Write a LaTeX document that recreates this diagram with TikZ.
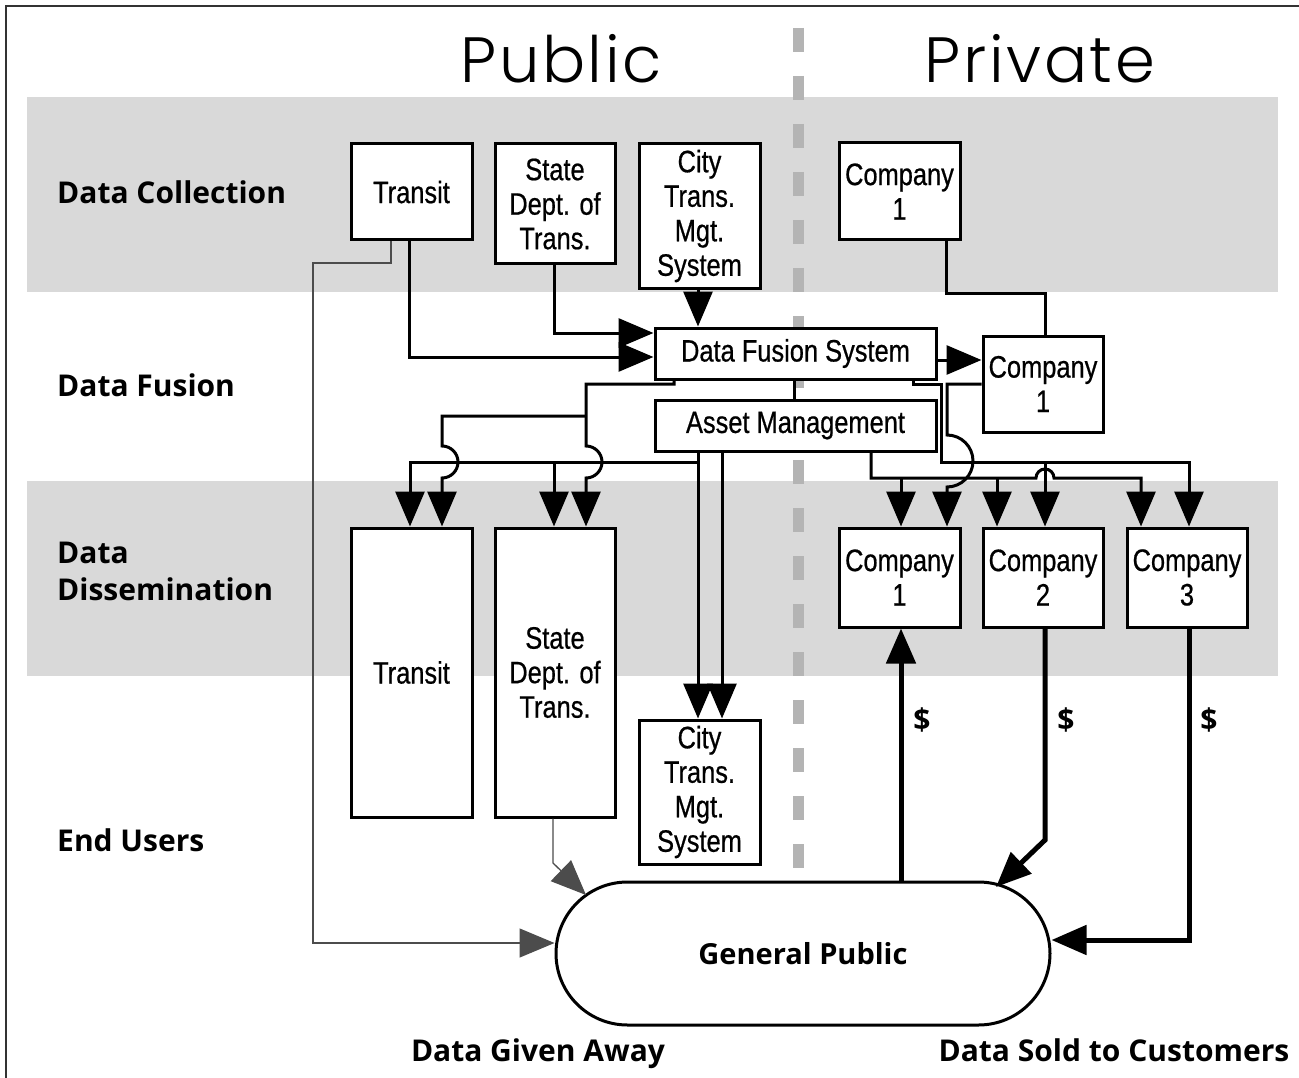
\documentclass[tikz,border=0pt]{standalone}
\usepackage{fontspec}
\usetikzlibrary{arrows.meta}
\newfontfamily\boxfont[FakeStretch=0.82,FakeBold=0.6]{Liberation Sans}
\newfontfamily\labfont{Open Sans}
\newfontfamily\titlefont[UprightFont=* Light,LetterSpace=4]{Poppins}
\definecolor{band}{HTML}{D9D9D9}
\definecolor{divider}{HTML}{B4B4B4}
\begin{document}
\begin{tikzpicture}[x=1pt,y=-1pt,
  box/.style={draw,line width=3pt,fill=white,inner sep=0pt,align=center,
    font=\boxfont\fontsize{31}{34.5}\selectfont},
  lab/.style={anchor=west,align=left,inner sep=0pt,
    font=\labfont\bfseries\fontsize{30}{37}\selectfont},
  bold/.style={inner sep=0pt,font=\labfont\bfseries\fontsize{30}{37}\selectfont},
  ttl/.style={anchor=base,inner sep=0pt,font=\titlefont\fontsize{64}{70}\selectfont},
  conn/.style={line width=3pt},
  thin/.style={line width=1.3pt,draw=black!70},
  heavy/.style={line width=5pt},
  tip/.style={-{Triangle[length=35pt,width=29pt]}},
]
\useasboundingbox (0,0) rectangle (1299,1078);
\fill[white] (0,0) rectangle (1299,1078);
% frame
\draw[line width=1.6pt,black!80] (6,1078) -- (6,6) -- (1299,6);

% horizontal bands
\fill[band] (27,97) rectangle (1278,292);
\fill[band] (27,481) rectangle (1278,676);

% public / private divider
\draw[divider,line width=11pt,dash pattern=on 24pt off 24pt] (798,28) -- (798,868);

% titles
\node[ttl] (tpub) at (561,83) {Public};
\node[ttl] (tpriv) at (1040,83) {Private};

% row labels
\node[lab] (lcol) at (57,192) {Data Collection};
\node[lab] (lfus) at (57,385) {Data Fusion};
\node[lab] (ldis) at (57,571) {Data\\Dissemination};
\node[lab] (lend) at (57,840) {End Users};

% collection boxes
\node[box,minimum width=121pt,minimum height=96pt] (tc) at (411.5,192) {Transit};
\node[box,minimum width=120pt,minimum height=120pt] (sc) at (555,204) {State\\Dept. of\\Trans.};
\node[box,minimum width=121pt,minimum height=144pt] (cc) at (699.5,216) {City\\Trans.\\Mgt.\\System};
\node[box,minimum width=121pt,minimum height=97pt] (pc) at (899.5,191.5) {Company\\1};

% fusion boxes
\node[box,minimum width=281pt,minimum height=51pt] (dfs) at (795.5,353.5) {Data Fusion System};
\node[box,minimum width=281pt,minimum height=51pt] (am) at (795.5,425.5) {Asset Management};
\node[box,minimum width=120pt,minimum height=96pt] (pm) at (1043,384) {Company\\1};

% dissemination boxes
\node[box,minimum width=121pt,minimum height=289pt] (td) at (411.5,672.5) {Transit};
\node[box,minimum width=120pt,minimum height=289pt] (sd) at (555,672.5) {State\\Dept. of\\Trans.};
\node[box,minimum width=121pt,minimum height=144pt] (cd) at (699.5,792) {City\\Trans.\\Mgt.\\System};
\node[box,minimum width=121pt,minimum height=99pt] (p1) at (899.5,577.5) {Company\\1};
\node[box,minimum width=120pt,minimum height=99pt] (p2) at (1043,577.5) {Company\\2};
\node[box,minimum width=120pt,minimum height=99pt] (p3) at (1187,577.5) {Company\\3};

% end users
\node[draw,line width=3pt,fill=white,rounded corners=71.5pt,minimum width=494pt,
  minimum height=143pt,inner sep=0pt,font=\labfont\bfseries\fontsize{29}{37}\selectfont]
  (gp) at (803,953.5) {General Public};
\coordinate (gpA) at (586,895);
\coordinate (gpB) at (996,887);

% bottom captions
\node[bold,anchor=base] (cfree) at (538,1061) {Data Given Away};
\node[bold,anchor=base] (csold) at (1114,1061) {Data Sold to Customers};

% collection -> fusion
\draw[conn,tip] (409,0 |- tc.south) -- (409,357) -- (dfs.west |- 0,357);
\draw[conn,tip] (554,0 |- sc.south) -- (554,333) -- (dfs.west |- 0,333);
\draw[conn,tip] (698,0 |- cc.south) -- (698,0 |- dfs.north);
\draw[conn,tip] (dfs.east |- 0,360) -- (pm.west |- 0,360);
\draw[conn] (946,0 |- pc.south) -- (946,293) -- (1045,293) -- (1045,0 |- pm.north);
\draw[conn] (794,0 |- dfs.south) -- (794,0 |- am.north);

% fusion system -> public agencies
\draw[conn,tip] (674,0 |- dfs.south) -- (674,384) -- (586,384) -- (586,446)
  arc[start angle=90,end angle=-90,radius=16pt] -- (586,0 |- sd.north);
\draw[conn,tip] (586,416) -- (442,416) -- (442,446)
  arc[start angle=90,end angle=-90,radius=16pt] -- (442,0 |- td.north);

% asset management -> public agencies
\draw[conn,tip] (698,0 |- am.south) -- (698,0 |- cd.north);
\draw[conn,tip] (722,0 |- am.south) -- (722,0 |- cd.north);
\draw[conn,tip] (698,462) -- (410,462) -- (410,0 |- td.north);
\draw[conn,tip] (554,462) -- (554,0 |- sd.north);

% fusion system -> companies
\draw[conn,tip] (913,0 |- dfs.south) -- (913,384) -- (941,384) -- (941,462) -- (1189,462) -- (1189,0 |- p3.north);
\draw[conn,tip] (1045,462) -- (1045,0 |- p2.north);

% company 1 -> its own dissemination
\draw[conn,tip] (pm.west |- 0,384) -- (947,384) -- (947,435)
  arc[start angle=90,end angle=-90,radius=26pt] -- (947,0 |- p1.north);

% asset management -> companies
\draw[conn,tip] (871,0 |- am.south) -- (871,478) -- (1036,478)
  arc[start angle=180,end angle=0,radius=9pt] -- (1141,478) -- (1141,0 |- p3.north);
\draw[conn,tip] (901,478) -- (901,0 |- p1.north);
\draw[conn,tip] (997,478) -- (997,0 |- p2.north);

% free data to the public
\draw[thin,tip] (391,0 |- tc.south) -- (391,263) -- (313,263) -- (313,943) -- (gp.west |- 0,943);
\draw[thin,tip] (553,0 |- sd.south) -- (553,863) -- (gpA);

% paid data
\draw[heavy,tip] (901,0 |- gp.north) -- (901,0 |- p1.south);
\draw[heavy,tip] (1045,0 |- p2.south) -- (1045,840) -- (gpB);
\draw[heavy,tip] (1189,0 |- p3.south) -- (1189,940) -- (gp.east |- 0,940);

\node[bold] (d1) at (922,720) {\$};
\node[bold] (d2) at (1066,720) {\$};
\node[bold] (d3) at (1209,720) {\$};
\end{tikzpicture}
\end{document}
